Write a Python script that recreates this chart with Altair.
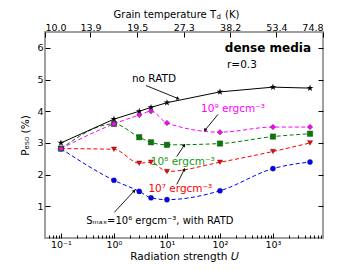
import altair as alt
import pandas as pd

# ---------------- data ----------------
U = [0.1, 1, 3, 5, 10, 100, 1000, 5000]
p_noratd = [3.00, 3.75, 4.00, 4.12, 4.27, 4.61, 4.76, 4.73]
p_1e9 = [2.82, 3.60, 3.88, 4.00, 3.63, 3.34, 3.50, 3.50]
p_1e8 = [2.82, 3.60, 3.18, 3.02, 2.94, 2.98, 3.20, 3.29]
p_1e7 = [2.82, 2.80, 2.36, 2.39, 2.10, 2.39, 2.73, 3.00]
p_1e6 = [2.82, 1.82, 1.47, 1.27, 1.21, 1.49, 2.19, 2.40]

dash_series = ["1e9", "1e8", "1e7", "1e6"]
dash_values = [p_1e9, p_1e8, p_1e7, p_1e6]
dash_colors = ["#ff00ff", "#008000", "#ff0000", "#0000ff"]
STAR = "M0,-1L0.2245,-0.309L0.951,-0.309L0.363,0.118L0.588,0.809L0,0.382L-0.588,0.809L-0.363,0.118L-0.951,-0.309L-0.2245,-0.309Z"
dash_shapes = ["diamond", "square", "triangle-down", "circle"]
dash_sizes = [30, 26, 30, 24]

# top axis (grain temperature) tick labels
T_ticks = [10.0, 13.9, 19.5, 27.3, 38.2, 53.4, 74.8]

# bottom axis ticks
U_major = [0.1, 1, 10, 100, 1000]
U_minor = [0.06, 0.07, 0.08, 0.09,
           0.2, 0.3, 0.4, 0.5, 0.6, 0.7, 0.8, 0.9,
           2, 3, 4, 5, 6, 7, 8, 9,
           20, 30, 40, 50, 60, 70, 80, 90,
           200, 300, 400, 500, 600, 700, 800, 900,
           2000, 3000, 4000, 5000, 6000, 7000, 8000]
y_ticks = [1, 2, 3, 4, 5, 6]

# annotations
ann_text = ["no RATD", "10⁹ ergcm⁻³", "10⁸ ergcm⁻³", "10⁷ ergcm⁻³",
            "Sₘₐₓ=10⁶ ergcm⁻³, with RATD"]
ann_U = [5.7, 176, 19.8, 17.9, 7.33]
ann_P = [5.01, 4.06, 2.39, 1.54, 0.54]
ann_color = ["#000000", "#ff00ff", "#1a9a1a", "#ff0000", "#000000"]
ann_size = [10.5, 10.5, 10.5, 10.5, 10]

arr_U1 = [4.03, 91.8, 15.3, 15.3, 1.016]
arr_P1 = [4.81, 3.90, 2.57, 1.69, 0.81]
arr_U2 = [16.2, 52.2, 21.2, 21.2, 2.42]
arr_P2 = [4.40, 3.40, 2.93, 2.16, 1.49]
arr_angle = [111, 218, 32, 25, 41]

FONT = "DejaVu Sans"

# ---------------- frames ----------------
df_black = pd.DataFrame({"U": U, "P": p_noratd})
rows = []
for s, vals in zip(dash_series, dash_values):
    for u, p in zip(U, vals):
        rows.append({"U": u, "P": p, "series": s})
df_dash = pd.DataFrame(rows)
df_ann = pd.DataFrame({"text": ann_text, "U": ann_U, "P": ann_P, "c": ann_color,
                       "fs": ann_size})
df_arr = pd.DataFrame({"U1": arr_U1, "P1": arr_P1, "U2": arr_U2, "P2": arr_P2,
                       "ang": arr_angle})
df_T = pd.DataFrame({"T": T_ticks})
df_misc = pd.DataFrame({"U": [5220, 136], "P": [6.0, 5.45],
                        "text": ["dense media", "r=0.3"]})

xs = alt.Scale(type="log", domain=[0.05, 8790])
ys = alt.Scale(domain=[0, 6.5], nice=False, zero=False)

label_expr = ("datum.value == 0.1 ? '10⁻¹' : datum.value == 1 ? '10⁰' : "
              "datum.value == 10 ? '10¹' : datum.value == 100 ? '10²' : '10³'")

x_major_axis = alt.Axis(values=U_major, labelExpr=label_expr, orient="bottom",
                        offset=-5, tickSize=5, domain=False, grid=False,
                        labelPadding=1, labelFontSize=9.5, labelFont=FONT,
                        labelColor="#000", tickColor="#000",
                        title="Radiation strength 𝑈", titleFont=FONT,
                        titleFontSize=10.5, titleFontWeight="normal",
                        titlePadding=3, titleColor="#000")
x_minor_axis = alt.Axis(values=U_minor, orient="bottom", offset=-3, tickSize=3,
                        labels=False, domain=False, grid=False, title=None,
                        tickColor="#000")
y_left_axis = alt.Axis(values=y_ticks, orient="left", offset=-5, tickSize=5,
                       domain=False, grid=False, labelPadding=2,
                       labelFontSize=9.5, labelFont=FONT, labelColor="#000",
                       tickColor="#000", title="P₈₅₀ (%)", titleFont=FONT,
                       titleFontSize=10.5, titleFontWeight="normal",
                       titlePadding=6, titleColor="#000")
y_right_axis = alt.Axis(values=y_ticks, orient="right", offset=-5, tickSize=5,
                        domain=False, grid=False, labels=False, title=None,
                        tickColor="#000")

black_line = alt.Chart(df_black).mark_line(color="black", strokeWidth=1).encode(
    x=alt.X("U:Q", scale=xs, axis=x_major_axis),
    y=alt.Y("P:Q", scale=ys, axis=y_left_axis),
)
black_pts = alt.Chart(df_black).mark_point(
    shape=STAR, filled=True, color="black", size=50, opacity=1
).encode(
    x=alt.X("U:Q", scale=xs, axis=x_minor_axis),
    y=alt.Y("P:Q", scale=ys, axis=y_right_axis),
)

col = alt.Color("series:N", scale=alt.Scale(domain=dash_series, range=dash_colors),
                legend=None)
dash_lines = alt.Chart(df_dash).mark_line(
    strokeWidth=1, strokeDash=[4, 2.5], interpolate="monotone"
).encode(
    x=alt.X("U:Q", scale=xs, axis=None),
    y=alt.Y("P:Q", scale=ys, axis=None),
    color=col,
)
dash_pts = alt.Chart(df_dash).mark_point(
    filled=True, opacity=1, stroke="#222", strokeWidth=0.4
).encode(
    x=alt.X("U:Q", scale=xs, axis=None),
    y=alt.Y("P:Q", scale=ys, axis=None),
    fill=alt.Fill("series:N", scale=alt.Scale(domain=dash_series, range=dash_colors),
                  legend=None),
    shape=alt.Shape("series:N", scale=alt.Scale(domain=dash_series, range=dash_shapes),
                    legend=None),
    size=alt.Size("series:N", scale=alt.Scale(domain=dash_series, range=dash_sizes),
                  legend=None),
    order=alt.Order("series:N", sort="ascending"),
)

arrows = alt.Chart(df_arr).mark_rule(color="black", strokeWidth=0.9).encode(
    x=alt.X("U1:Q", scale=xs, axis=None),
    x2="U2:Q",
    y=alt.Y("P1:Q", scale=ys, axis=None),
    y2="P2:Q",
)
heads = alt.Chart(df_arr).mark_point(
    shape="triangle-up", filled=True, color="black", size=14, opacity=1
).encode(
    x=alt.X("U2:Q", scale=xs, axis=None),
    y=alt.Y("P2:Q", scale=ys, axis=None),
    angle=alt.Angle("ang:Q", scale=None),
)

ann = alt.Chart(df_ann).mark_text(font=FONT, align="center",
                                  baseline="middle").encode(
    x=alt.X("U:Q", scale=xs, axis=None),
    y=alt.Y("P:Q", scale=ys, axis=None),
    text="text:N",
    color=alt.Color("c:N", scale=None),
    size=alt.Size("fs:Q", scale=None),
)
dense = alt.Chart(df_misc.iloc[[0]]).mark_text(
    font=FONT, fontSize=12, fontWeight="bold", align="right", baseline="middle",
    color="black"
).encode(
    x=alt.X("U:Q", scale=xs, axis=None),
    y=alt.Y("P:Q", scale=ys, axis=None),
    text="text:N",
)
rlab = alt.Chart(df_misc.iloc[[1]]).mark_text(
    font=FONT, fontSize=10.5, align="left", baseline="middle", color="black"
).encode(
    x=alt.X("U:Q", scale=xs, axis=None),
    y=alt.Y("P:Q", scale=ys, axis=None),
    text="text:N",
)

top_axis = alt.Chart(df_T).mark_point(opacity=0).encode(
    x=alt.X("T:Q", scale=alt.Scale(type="log", domain=[10.0, 74.8], nice=False),
            axis=alt.Axis(values=T_ticks, format=".1f", orient="top", offset=-5,
                          tickSize=5, domain=False, grid=False, labelPadding=0,
                          labelFontSize=9.5, labelFont=FONT, labelColor="#000",
                          tickColor="#000", title=None)),
    y=alt.value(0),
)

# top axis title with subscript d
ttl_main = alt.Chart(df_T.iloc[[0]]).mark_text(
    text="Grain temperature T", font=FONT, fontSize=10, align="right",
    baseline="middle", color="black").encode(x=alt.value(171), y=alt.value(-17.5))
ttl_sub = alt.Chart(df_T.iloc[[0]]).mark_text(
    text="d", font=FONT, fontSize=7, align="left",
    baseline="middle", color="black").encode(x=alt.value(171.5), y=alt.value(-14.8))
ttl_end = alt.Chart(df_T.iloc[[0]]).mark_text(
    text="(K)", font=FONT, fontSize=10, align="left",
    baseline="middle", color="black").encode(x=alt.value(180), y=alt.value(-17.5))

chart = alt.layer(
    dash_lines, black_line, dash_pts, black_pts, arrows, heads, ann, dense, rlab,
    top_axis, ttl_main, ttl_sub, ttl_end
).resolve_scale(x="independent").resolve_axis(
    x="independent", y="independent"
).properties(
    width=278, height=206,
    autosize=alt.AutoSizeParams(type="none"),
    padding={"left": 37, "top": 24, "right": 29, "bottom": 24},
).configure_view(stroke="#a0a0a0", strokeWidth=2)

chart.save("out.html", embed_options={"renderer": "svg", "actions": False})
